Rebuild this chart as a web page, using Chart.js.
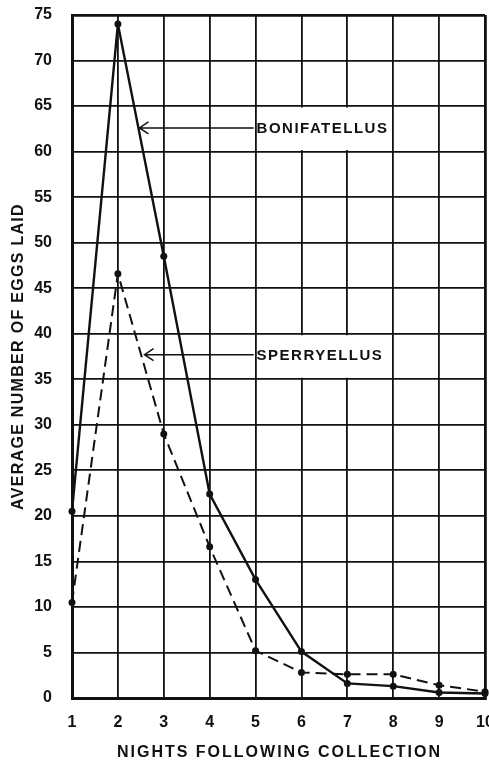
<!DOCTYPE html>
<html>
<head>
<meta charset="utf-8">
<script src="https://cdn.jsdelivr.net/npm/chart.js@4.4.1/dist/chart.umd.min.js"></script>
<style>
  html, body { margin: 0; padding: 0; background: #fff; }
  #wrap { width: 489px; height: 761px; }
</style>
</head>
<body>
<div id="wrap"><canvas id="chart" width="489" height="761"></canvas></div>
<script>
const nights = ['1', '2', '3', '4', '5', '6', '7', '8', '9', '10'];
const bonifatellus = [20.5, 74, 48.5, 22.4, 13, 5.1, 1.6, 1.3, 0.6, 0.5];
const sperryellus = [10.5, 46.6, 29, 16.6, 5.2, 2.8, 2.6, 2.6, 1.4, 0.7];
const yTicks = [0, 5, 10, 15, 20, 25, 30, 35, 40, 45, 50, 55, 60, 65, 70, 75];
const xTitle = 'NIGHTS FOLLOWING COLLECTION';
const yTitle = 'AVERAGE NUMBER OF EGGS LAID';

const FONT = '"Liberation Sans", Arial, sans-serif';

// arrows + labels pointing at the two curves, placed in data units
const callouts = [
  { text: 'BONIFATELLUS', y: 62.6, tip: 2.47, from: 4.96, boxTop: 65, boxBottom: 60 },
  { text: 'SPERRYELLUS', y: 37.7, tip: 2.58, from: 4.96, boxTop: 40, boxBottom: 35 }
];

const calloutPlugin = {
  id: 'callouts',
  afterDraw(chart) {
    const ctx = chart.ctx;
    const xs = chart.scales.x, ys = chart.scales.y;
    const px = v => xs.left + (v - 1) / 9 * (xs.right - xs.left);
    ctx.save();
    callouts.forEach(c => {
      // white box hiding the grid behind the label
      const bx0 = px(5) + 1.5, bx1 = px(8) - 1.5;
      const by0 = ys.getPixelForValue(c.boxTop) + 1.5;
      const by1 = ys.getPixelForValue(c.boxBottom) - 1.5;
      ctx.fillStyle = '#fff';
      ctx.fillRect(bx0, by0, bx1 - bx0, by1 - by0);

      const y = ys.getPixelForValue(c.y);
      const tx = px(c.tip), fx = px(c.from);
      ctx.strokeStyle = '#111';
      ctx.lineWidth = 1.5;
      ctx.beginPath();
      ctx.moveTo(fx, y);
      ctx.lineTo(tx, y);
      ctx.moveTo(tx + 9, y - 6);
      ctx.lineTo(tx, y);
      ctx.lineTo(tx + 9, y + 6);
      ctx.stroke();

      ctx.fillStyle = '#111';
      ctx.font = 'bold 15px ' + FONT;
      ctx.textBaseline = 'middle';
      ctx.textAlign = 'left';
      ctx.letterSpacing = '1.5px';
      ctx.fillText(c.text, px(5) + 1, y + 1);
    });

    // axis titles (drawn here to get the wide letter spacing of the original)
    const ca = chart.chartArea;
    ctx.fillStyle = '#111';
    ctx.font = 'bold 16px ' + FONT;
    ctx.textAlign = 'center';
    ctx.textBaseline = 'middle';
    ctx.letterSpacing = '2px';
    ctx.fillText(xTitle, (ca.left + ca.right) / 2 + 1, 753);
    ctx.translate(19, (ca.top + ca.bottom) / 2);
    ctx.rotate(-Math.PI / 2);
    ctx.letterSpacing = '1.3px';
    ctx.fillText(yTitle, 0, 0);
    ctx.restore();
  }
};

const edgeWidth = (ctx, n) => (ctx.index === 0 || ctx.index === n - 1) ? 2.8 : 1.8;

new Chart(document.getElementById('chart'), {
  type: 'line',
  data: {
    labels: nights,
    datasets: [
      {
        label: 'Bonifatellus',
        data: bonifatellus,
        borderColor: '#111',
        backgroundColor: '#111',
        borderWidth: 2.4,
        pointRadius: 3.5,
        pointBorderWidth: 0,
        tension: 0
      },
      {
        label: 'Sperryellus',
        data: sperryellus,
        borderColor: '#111',
        backgroundColor: '#111',
        borderWidth: 2,
        borderDash: [11, 6],
        pointRadius: 3.5,
        pointBorderWidth: 0,
        tension: 0
      }
    ]
  },
  options: {
    responsive: false,
    animation: false,
    layout: { padding: { top: 15, right: 2, left: 0, bottom: 0 } },
    plugins: {
      legend: { display: false },
      tooltip: { enabled: false }
    },
    scales: {
      x: {
        offset: false,
        grid: {
          color: '#111',
          lineWidth: ctx => edgeWidth(ctx, nights.length),
          drawTicks: false
        },
        border: { color: '#111', width: 3 },
        ticks: {
          color: '#111',
          padding: 15,
          maxRotation: 0,
          font: { family: FONT, size: 16, weight: 'bold' }
        },
        afterFit: s => { s.height = 63; s.paddingLeft = 0; s.paddingRight = 0; }
      },
      y: {
        min: 0,
        max: 75,
        afterBuildTicks: s => { s.ticks = yTicks.map(v => ({ value: v })); },
        grid: {
          color: '#111',
          lineWidth: ctx => edgeWidth(ctx, yTicks.length),
          drawTicks: false
        },
        border: { color: '#111', width: 3 },
        ticks: {
          color: '#111',
          padding: 20,
          font: { family: FONT, size: 16, weight: 'bold' }
        },
        afterFit: s => { s.width = 72; s.paddingTop = 0; s.paddingBottom = 0; }
      }
    }
  },
  plugins: [calloutPlugin]
});
</script>
</body>
</html>
